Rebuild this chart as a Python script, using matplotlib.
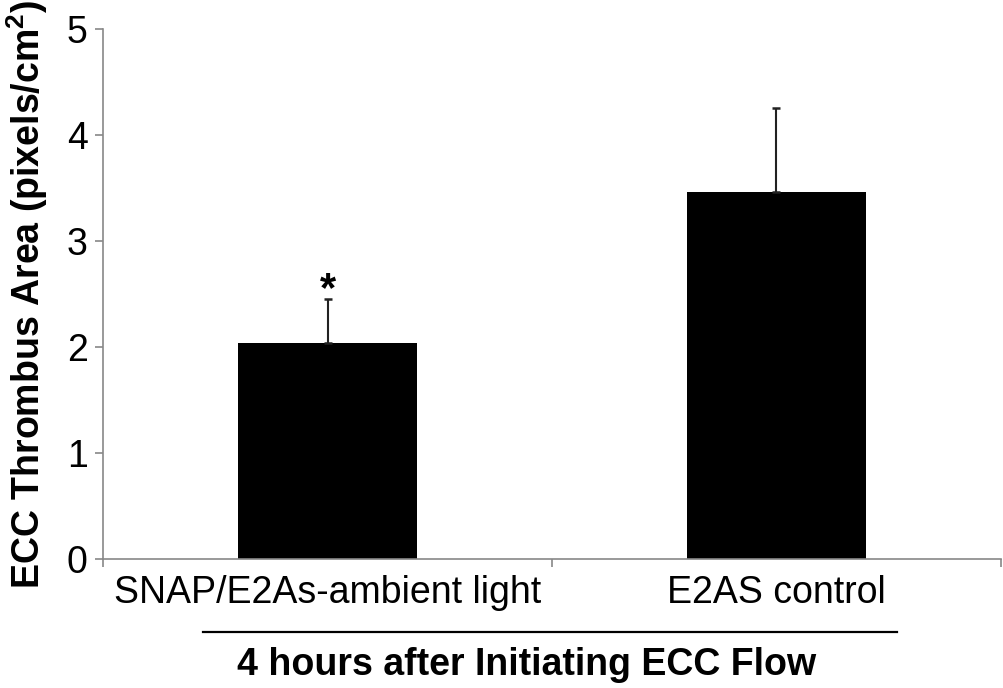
import matplotlib
matplotlib.use("Agg")
import matplotlib.pyplot as plt
from matplotlib.lines import Line2D

plt.rcParams['font.family'] = ['Liberation Sans', 'DejaVu Sans']
plt.rcParams['mathtext.fontset'] = 'custom'
plt.rcParams['mathtext.rm'] = 'Liberation Sans'
plt.rcParams['mathtext.bf'] = 'Liberation Sans:bold'

categories = ["SNAP/E2As-ambient light", "E2AS control"]
means = [2.04, 3.46]
errors = [0.41, 0.79]
marks = ["*", ""]

fig = plt.figure(figsize=(10.04, 6.88), dpi=100)
ax = fig.add_axes([0.1026, 0.187, 0.8944, 0.771])

x = list(range(len(categories)))
ax.bar(x, means, width=0.40, color="black", zorder=2)
ax.errorbar(x, means, yerr=[[0] * len(errors), errors], fmt="none",
            ecolor="#222222", elinewidth=1.5, capsize=2.8, capthick=1.8, zorder=3)

for xi, m, e, s in zip(x, means, errors, marks):
    if s:
        ax.annotate(s, (xi, m + e), xytext=(0, -8), textcoords="offset points",
                    ha="center", va="bottom", fontsize=30, fontweight="bold")

ax.set_xlim(-0.5, 1.5)
ax.set_ylim(0, 5)
ax.set_yticks([0, 1, 2, 3, 4, 5])
ax.set_xticks(x)
ax.set_xticklabels(categories, fontsize=27)
ax.set_xticks([-0.5, 0.5, 1.5], minor=True)
ax.tick_params(axis="x", which="major", length=0, pad=11)
ax.tick_params(axis="x", which="minor", length=6, width=1.2, color="#888888", direction="out")
ax.tick_params(axis="y", labelsize=27, length=6, width=1.2, color="#888888", pad=5)

for side in ["top", "right"]:
    ax.spines[side].set_visible(False)
for side in ["left", "bottom"]:
    ax.spines[side].set_color("#888888")
    ax.spines[side].set_linewidth(1.2)

ax.set_ylabel(r"ECC Thrombus Area (pixels/cm$^{\mathbf{2}}$)", fontsize=27,
              fontweight="bold", labelpad=12)

fig.add_artist(Line2D([0.202, 0.893], [0.0814, 0.0814], color="black", linewidth=1.6,
                      transform=fig.transFigure))
fig.text(0.524, 0.033, "4 hours after Initiating ECC Flow", fontsize=27,
         fontweight="bold", ha="center", va="center")

fig.savefig("out.png", dpi=100)
